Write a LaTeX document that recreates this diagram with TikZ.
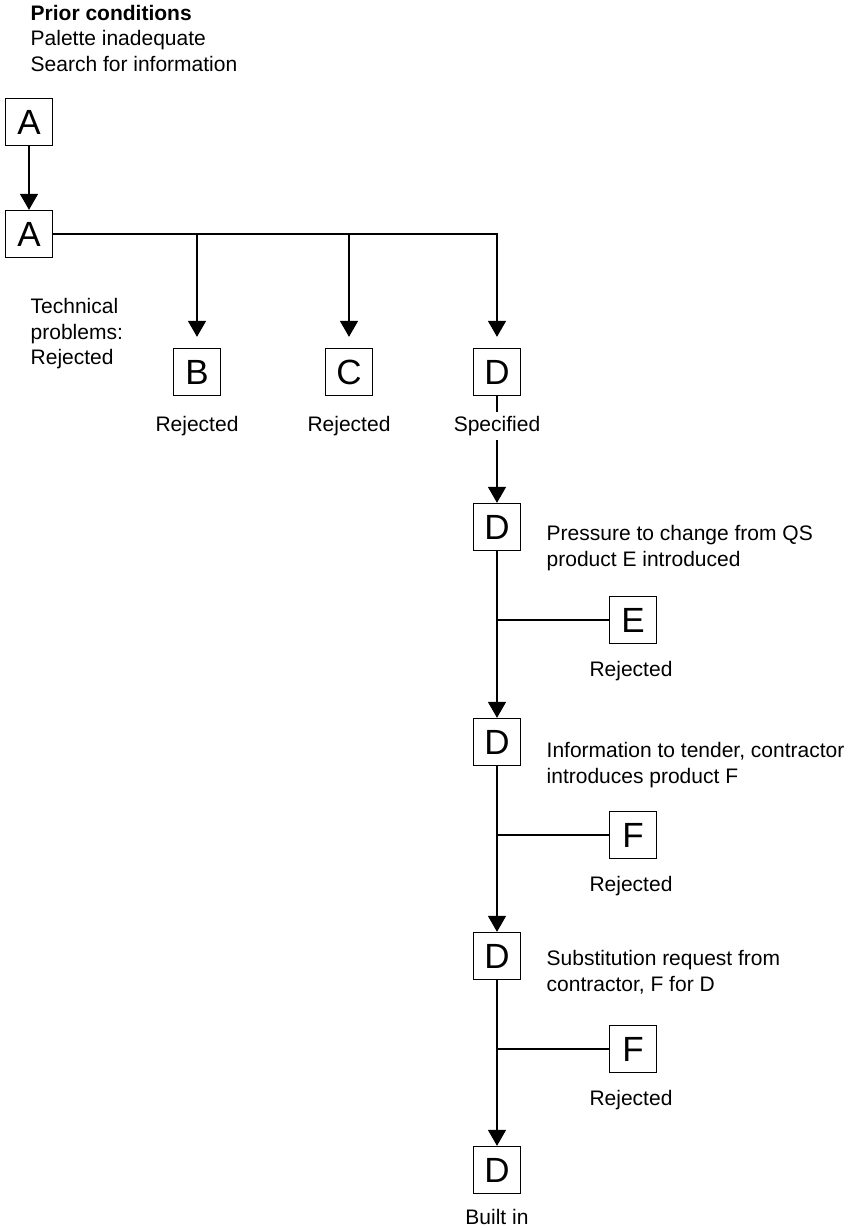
\documentclass[tikz,border=0pt]{standalone}
\usepackage{fontspec}
\setmainfont{Liberation Sans}
\usetikzlibrary{arrows.meta}

\tikzset{
  box/.style={draw, line width=1.3pt, minimum size=47pt, inner sep=0pt, font=\fontsize{35}{35}\selectfont},
  txt/.style={inner sep=0pt, align=left, font=\fontsize{21}{25.5}\selectfont},
  arr/.style={-{Triangle[width=18pt,length=16pt]}}
}

\begin{document}
\begin{tikzpicture}[x=1pt, y=-1pt, line width=1.4pt]
  \useasboundingbox (0,0) rectangle (858,1230);
  \node[txt, anchor=west] (prior) at (30,38) {\textbf{Prior conditions}\\Palette inadequate\\Search for information};
  \node[box] (A1) at (29,122) {A};
  \node[box] (A2) at (29,234) {A};
  \draw[arr] (A1) -- (A2);
  \node[txt, anchor=west] (tech) at (30,334) {Technical\\problems:\\Rejected};
  \foreach \n/\l/\x/\t in {B/B/197/Rejected, C/C/349/Rejected, D1/D/497/Specified} {
    \node[box] (\n) at (\x,372) {\l};
    \node[txt, inner sep=4pt] (\n-lab) at (\x,426) {\t};
  }
  \draw[arr, shorten >=11pt] (A2.east) -| (D1);
  \foreach \n in {B,C}
    \draw[arr, shorten >=11pt] (A2.east -| \n) -- (\n);
  \foreach \n/\y in {D2/527, D3/742, D4/956, D5/1170}
    \node[box] (\n) at (497,\y) {D};
  \draw (D1) -- (D1-lab);
  \draw[arr] (D1-lab) -- (D2);
  \draw[arr] (D2) -- (D3);
  \draw[arr] (D3) -- (D4);
  \draw[arr] (D4) -- (D5);
  \foreach \n/\l/\y in {E/E/620, F1/F/835, F2/F/1049} {
    \node[box] (\n) at (633,\y) {\l};
    \node[txt] (\n-lab) at (631,\y+51) {Rejected};
    \draw (\n -| D2) -- (\n);
  }
  \node[txt, anchor=west] (why2) at (546,548) {Pressure to change from QS\\product E introduced};
  \node[txt, anchor=west] (why3) at (546,765) {Information to tender, contractor\\introduces product F};
  \node[txt, anchor=west] (why4) at (546,972) {Substitution request from\\contractor, F for D};
  \node[txt] (built) at (497,1217) {Built in};
\end{tikzpicture}
\end{document}
